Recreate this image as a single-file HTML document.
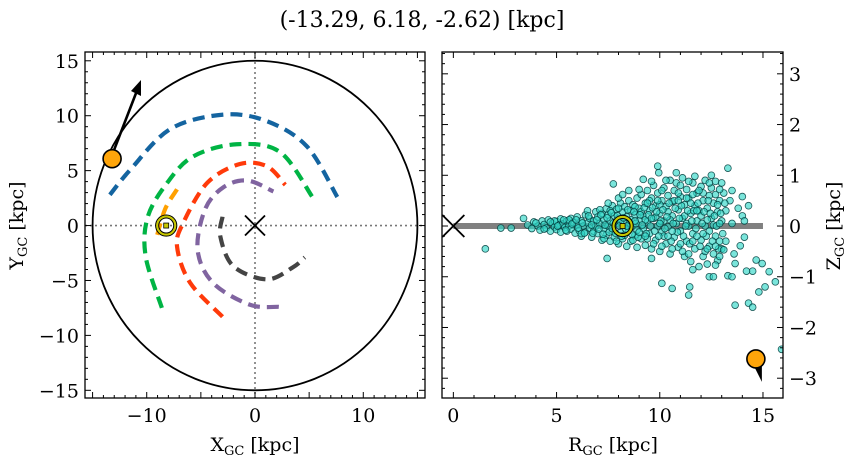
<!DOCTYPE html>
<html><head><meta charset="utf-8"><style>
html,body{margin:0;padding:0;background:#fff;width:854px;height:464px;overflow:hidden}
svg{display:block;font-family:"DejaVu Serif","Liberation Serif",serif}
</style></head><body>
<svg id="fig" width="854" height="464" viewBox="0 0 854 464" xmlns="http://www.w3.org/2000/svg">
<text x="422" y="27" font-size="22" text-anchor="middle">(-13.29, 6.18, -2.62) [kpc]</text>
<g id="L"></g>
<g id="R"></g>
</svg>
<script>
// ---- data ----
const armBlueX=[-13.4,-11.5,-7.8,-2.9,1.1,4.8,7.6];
const armBlueY=[2.8,5.1,8.8,10.1,9.5,7.2,2.6];
const armGreenX=[-8.6,-10.1,-9.9,-8.1,-5.7,-1.7,2.3,5.3];
const armGreenY=[-7.5,-2.8,0.8,3.9,6.3,7.4,6.7,2.6];
const armRedX=[-3.0,-6.0,-7.2,-6.6,-4.4,-1.4,1.1,2.8];
const armRedY=[-8.3,-5.2,-1.9,0.3,3.9,5.6,5.4,3.7];
const armPurpleX=[2.2,-0.5,-3.9,-5.3,-4.6,-2.9,-0.7,1.7];
const armPurpleY=[-7.4,-7.2,-5.2,-2.2,1.5,3.5,4.1,3.1];
const armGrayX=[-3.0,-3.2,-2.0,1.1,3.5,4.6];
const armGrayY=[0.8,-1.0,-3.7,-4.9,-3.8,-2.9];
const armOrangeX=[-7.2,-8.3,-9.1];
const armOrangeY=[3.3,1.5,-1.1];
const target=[-13.29,6.18,-2.62];
const sunXY=[-8.2,0];
const xyTicks=[-15,-10,-5,0,5,10,15];
const xTickLabels=["−10","0","10"];
const yTickLabelsL=["−15","−10","−5","0","5","10","15"];
const rTicks=[0,5,10,15];
const zTicks=[-3,-2,-1,0,1,2,3];
const zTickLabels=["−3","−2","−1","0","1","2","3"];
const stars=[[3.6,0.02],[3.8,-0.05],[3.9,0.08],[4.1,0.0],[4.2,-0.08],[4.3,0.1],[4.4,0.03],[4.5,-0.04],[4.6,0.12],[4.7,-0.1],[4.8,0.05],[4.9,-0.02],[5.0,0.09],[5.0,-0.07],[5.1,0.02],[5.2,0.14],[5.2,-0.12],[5.3,0.04],[5.4,-0.03],[5.5,0.1],[5.5,-0.1],[5.6,0.0],[5.7,0.15],[5.7,-0.06],[5.8,0.07],[5.9,-0.14],[6.0,0.02],[6.0,0.18],[6.1,-0.09],[6.2,0.1],[6.2,-0.2],[6.3,0.0],[6.4,0.22],[6.4,-0.12],[6.5,0.06],[6.6,-0.04],[6.6,0.15],[6.7,-0.22],[6.8,0.1],[6.8,-0.1],[6.9,0.28],[6.9,0.0],[7.0,-0.15],[7.0,0.18],[7.1,0.05],[7.2,-0.28],[7.2,0.25],[7.3,-0.05],[7.3,0.12],[7.4,0.34],[7.4,-0.18],[7.5,0.0],[7.5,0.22],[7.6,-0.3],[7.6,0.1],[7.7,0.4],[7.7,-0.1],[7.8,0.2],[7.8,-0.22],[7.9,0.05],[7.9,0.33],[8.0,-0.35],[8.0,0.15],[8.1,-0.12],[8.1,0.45],[8.2,0.28],[8.2,-0.25],[8.3,0.05],[8.3,0.38],[8.4,-0.4],[8.4,0.18],[8.5,-0.08],[8.5,0.5],[8.6,0.3],[8.6,-0.3],[8.7,0.0],[8.7,0.42],[8.8,-0.18],[8.8,0.22],[8.9,0.55],[8.9,-0.42],[9.0,0.1],[9.0,0.35],[9.1,-0.25],[9.1,0.62],[9.2,0.2],[9.2,-0.05],[9.3,0.45],[9.3,-0.38],[9.4,0.7],[9.4,0.08],[9.5,-0.15],[9.5,0.3],[9.6,0.55],[9.6,-0.45],[9.7,0.15],[9.7,0.8],[9.8,-0.28],[9.8,0.4],[9.9,0.0],[9.9,0.65],[10.0,-0.5],[10.0,0.25],[10.1,0.5],[10.1,-0.12],[10.2,0.75],[10.2,0.1],[10.3,-0.35],[10.3,0.38],[10.4,0.6],[10.4,-0.02],[10.5,0.9],[10.5,-0.55],[10.6,0.2],[10.6,0.48],[10.7,-0.22],[10.7,0.7],[10.8,0.05],[10.8,0.85],[10.9,-0.42],[10.9,0.32],[11.0,0.58],[11.0,-0.1],[11.1,0.15],[11.1,0.95],[11.2,-0.6],[11.2,0.42],[11.3,0.72],[11.3,-0.3],[11.4,0.0],[11.4,0.55],[11.5,0.25],[11.5,-0.7],[11.6,0.85],[11.6,-0.15],[11.7,0.4],[11.7,-0.45],[11.8,0.65],[11.8,0.1],[11.9,-0.8],[11.9,0.3],[12.0,0.78],[12.0,-0.28],[12.1,0.5],[12.1,-0.6],[12.2,0.0],[12.2,0.9],[12.3,0.35],[12.3,-0.75],[12.4,0.6],[12.4,-0.4],[12.5,0.15],[12.5,0.75],[12.6,-0.55],[12.6,0.45],[12.7,-0.2],[12.7,0.62],[12.8,0.28],[12.8,-0.68],[12.9,0.5],[13.0,0.1],[13.0,-0.45],[13.1,0.65],[13.2,0.3],[13.2,-0.3],[13.4,0.5],[13.5,0.05],[13.6,-0.55],[13.8,0.35],[14.0,0.2],
[7.1,0.32],[7.3,-0.25],[7.6,0.3],[7.9,-0.3],[8.1,0.08],[8.3,-0.18],[8.6,0.12],[8.8,0.38],[8.9,-0.08],[9.1,0.28],[9.3,0.12],[9.5,0.5],[9.7,-0.35],[9.8,0.18],[10.0,0.42],[10.2,-0.2],[10.4,0.28],[10.5,0.12],[10.7,0.5],[10.9,0.65],[11.0,-0.35],[11.2,0.2],[11.3,0.05],[11.5,0.45],[11.6,0.62],[11.8,-0.2],[12.0,0.2],[12.1,0.65],[12.3,0.12],[12.4,-0.1],[12.6,0.02],[12.8,0.42],[12.9,-0.3],[9.4,-0.25],[10.1,-0.4],[10.6,-0.45],[11.1,-0.5],[11.4,-0.55],[12.2,-0.5],[9.0,0.72],[9.6,0.88],[10.3,0.9],[11.7,0.98],[12.5,1.0],[9.2,0.92],[10.8,1.05],[11.4,0.88],[12.7,0.88],[12.9,0.72],[13.0,0.85],[8.5,0.7],[8.7,-0.28],[8.0,0.55],[8.2,0.62],[7.5,0.45],[6.5,0.3],[6.2,-0.15],[5.6,0.12],[4.9,0.1]];
const coreStars=[[4.0,0.06],[4.4,-0.06],[4.7,0.08],[5.05,0.0],[5.35,0.12],[5.45,-0.08],[5.75,0.04],[5.95,0.12],[6.05,-0.04],[6.25,0.06],[6.35,-0.14],[6.55,0.2],[6.7,0.02],[6.75,-0.14],[6.95,0.12],[7.05,-0.06],[7.15,0.22],[7.25,-0.16],[7.35,0.02],[7.45,0.16],[7.55,-0.12],[7.65,0.26],[7.75,0.06],[7.85,-0.14],[7.95,0.2],[8.05,0.0],[8.15,-0.2],[8.25,0.16],[8.35,-0.06],[8.45,0.32],[8.55,0.06],[8.65,-0.16],[8.75,0.28],[8.85,0.05],[8.95,-0.22],[9.05,0.22],[9.15,0.02],[9.25,0.36],[9.35,-0.15],[9.45,0.22],[9.55,0.0],[9.65,0.36],[9.75,-0.1],[9.85,0.28],[9.95,-0.2],[10.05,0.1],[10.15,0.32],[10.25,-0.05],[10.35,0.18],[10.45,0.45],[10.55,-0.3],[10.65,0.05],[10.75,0.35],[10.85,-0.12],[10.95,0.15],[11.05,0.4],[11.15,-0.2],[11.25,0.0],[11.35,0.3],[11.45,-0.35],[11.55,0.1],[11.65,0.3],[11.75,-0.05],[11.85,0.45],[11.95,-0.4],[12.05,0.05],[12.15,0.28],[12.25,-0.2],[12.35,0.5],[12.45,0.25],[12.55,-0.3],[12.65,0.2],[12.75,0.0],[12.85,-0.45],[12.95,0.25],[13.05,-0.15],[13.15,0.45],[9.0,-0.12],[9.4,0.45],[9.9,0.5],[10.4,-0.2],[10.9,0.5],[11.3,0.55],[11.8,0.3],[12.3,-0.45],[12.7,-0.4],[8.4,0.0],[8.0,0.35],[7.7,-0.05],[9.6,0.15],[10.1,0.7],[11.0,0.8],[11.9,0.7],[12.4,0.85],[10.6,-0.1],[11.6,-0.3],[12.1,-0.15],[12.9,0.05],[10.0,0.05],[9.3,-0.2],[8.8,0.1]];
const outliers=[[1.55,-0.45],[2.3,-0.04],[2.8,-0.04],[3.4,0.15],[7.45,-0.64],[7.75,0.83],[9.9,1.18],[9.95,1.05],[13.3,1.14],[9.6,-0.64],[10.1,-1.13],[10.6,-1.23],[11.4,-1.36],[11.45,-1.2],[11.6,-0.86],[12.4,-1.0],[12.6,-1.0],[13.3,-0.98],[13.5,-1.0],[13.65,-1.56],[14.3,-1.52],[14.5,-1.6],[14.8,-1.3],[15.1,-1.2],[15.6,-1.1],[15.9,-2.43],[15.3,-0.9],[14.96,-0.74],[14.5,-0.89],[14.67,-0.67],[14.2,-0.89],[14.1,-0.22],[13.9,-0.39],[13.65,-0.74],[13.1,-0.47],[12.9,-0.6],[12.7,-0.77],[14.3,0.4],[14.1,0.1],[14.0,0.58],[13.5,0.7]];

// ---- helpers ----
const NS="http://www.w3.org/2000/svg";
function mk(parent,tag,attrs,txt){const e=document.createElementNS(NS,tag);for(const k in attrs)e.setAttribute(k,attrs[k]);if(txt!==undefined)e.textContent=txt;parent.appendChild(e);return e;}
const L={x0:85,x1:425,y0:52,y1:398,xmin:-15.7,xmax:15.7,ymin:-15.7,ymax:15.8};
const lx=v=>L.x0+(v-L.xmin)/(L.xmax-L.xmin)*(L.x1-L.x0);
const ly=v=>L.y1-(v-L.ymin)/(L.ymax-L.ymin)*(L.y1-L.y0);
const R={x0:442,x1:783,y0:52,y1:398,xmin:-0.55,xmax:15.97,ymin:-3.39,ymax:3.43};
const rx=v=>R.x0+(v-R.xmin)/(R.xmax-R.xmin)*(R.x1-R.x0);
const ry=v=>R.y1-(v-R.ymin)/(R.ymax-R.ymin)*(R.y1-R.y0);

const gL=document.getElementById('L');
const gR=document.getElementById('R');

function smooth(xs,ys,fx,fy){
  const p=xs.map((x,i)=>[fx(x),fy(ys[i])]);
  let d=`M${p[0][0]},${p[0][1]}`;
  for(let i=0;i<p.length-1;i++){
    const p0=p[Math.max(i-1,0)],p1=p[i],p2=p[i+1],p3=p[Math.min(i+2,p.length-1)];
    const c1=[p1[0]+(p2[0]-p0[0])/6,p1[1]+(p2[1]-p0[1])/6];
    const c2=[p2[0]-(p3[0]-p1[0])/6,p2[1]-(p3[1]-p1[1])/6];
    d+=` C${c1[0]},${c1[1]} ${c2[0]},${c2[1]} ${p2[0]},${p2[1]}`;
  }
  return d;
}

let e;
e=mk(gL,'line',{x1:lx(0),x2:lx(0),y1:L.y0,y2:L.y1,stroke:'#777','stroke-width':1.6,'stroke-dasharray':'2,3'});


e=mk(gL,'line',{x1:L.x0,x2:L.x1,y1:ly(0),y2:ly(0),stroke:'#777','stroke-width':1.6,'stroke-dasharray':'2,3'});


e=mk(gL,'ellipse',{cx:lx(0),cy:ly(0),rx:lx(15)-lx(0),ry:ly(0)-ly(15),fill:'none',stroke:'#000','stroke-width':1.8});


const arms=[['arm-blue',armBlueX,armBlueY,'#1464a0'],['arm-green',armGreenX,armGreenY,'#00b444'],['arm-red',armRedX,armRedY,'#ff3a0a'],['arm-purple',armPurpleX,armPurpleY,'#8064a0'],['arm-gray',armGrayX,armGrayY,'#444444'],['arm-orange',armOrangeX,armOrangeY,'#ffa000']];
arms.forEach(a=>{
  const p=mk(gL,'path',{d:smooth(a[1],a[2],lx,ly),fill:'none',stroke:a[3],'stroke-width':4.2,'stroke-dasharray':'12,7'});
  
  
});
e=mk(gL,'path',{d:`M${lx(0)-10},${ly(0)-10}L${lx(0)+10},${ly(0)+10}M${lx(0)-10},${ly(0)+10}L${lx(0)+10},${ly(0)-10}`,stroke:'#000','stroke-width':1.8});


function sun(g,cx,cy,name){
  const s=mk(g,'g',{});
  
  
  mk(s,'circle',{cx,cy,r:10.5,fill:'none',stroke:'#000','stroke-width':1.2});
  mk(s,'circle',{cx,cy,r:9,fill:'none',stroke:'#c8c800','stroke-width':2.2});
  mk(s,'circle',{cx,cy,r:7.5,fill:'none',stroke:'#000','stroke-width':1});
  mk(s,'rect',{x:cx-2.5,y:cy-2.5,width:5,height:5,fill:'#c8c800',stroke:'#000','stroke-width':0.8});
}
sun(gL,lx(sunXY[0]),ly(sunXY[1]),'sun-marker-xy');
const tx=lx(target[0]),ty=ly(target[1]);
e=mk(gL,'line',{x1:tx,y1:ty,x2:138,y2:88,stroke:'#000','stroke-width':2.6});


e=mk(gL,'polygon',{points:'141,80 131,91 141,96',fill:'#000'});


e=mk(gL,'circle',{cx:tx+1,cy:ty+1,r:9,fill:'#ffa50a',stroke:'#000','stroke-width':1.6});



function frame(g,A){
  const f=mk(g,'rect',{x:A.x0,y:A.y0,width:A.x1-A.x0,height:A.y1-A.y0,fill:'none',stroke:'#000','stroke-width':1.3});
  
  
}
frame(gL,L);
for(let v=-15;v<=15;v++){
  const major=v%5===0, len=major?6:3;
  const X=lx(v),Y=ly(v);
  mk(gL,'line',{x1:X,x2:X,y1:L.y1,y2:L.y1-len,stroke:'#000','stroke-width':1});
  mk(gL,'line',{x1:X,x2:X,y1:L.y0,y2:L.y0+len,stroke:'#000','stroke-width':1});
  mk(gL,'line',{x1:L.x0,x2:L.x0+len,y1:Y,y2:Y,stroke:'#000','stroke-width':1});
  mk(gL,'line',{x1:L.x1,x2:L.x1-len,y1:Y,y2:Y,stroke:'#000','stroke-width':1});
}
[-10,0,10].forEach((v,i)=>{
  const t=mk(gL,'text',{x:lx(v),y:422,'font-size':19,'text-anchor':'middle'},xTickLabels[i]);
  
  
});
xyTicks.forEach((v,i)=>{
  const t=mk(gL,'text',{x:79,y:ly(v)+7,'font-size':19,'text-anchor':'end'},yTickLabelsL[i]);
  
  
});
e=mk(gL,'text',{x:255,y:451,'font-size':19,'text-anchor':'middle'});
e.innerHTML='X<tspan font-size="13" dy="4">GC</tspan><tspan dy="-4"> [kpc]</tspan>';


e=mk(gL,'text',{x:0,y:0,'font-size':19,'text-anchor':'middle',transform:`translate(23,${ly(0)}) rotate(-90)`});
e.innerHTML='Y<tspan font-size="13" dy="4">GC</tspan><tspan dy="-4"> [kpc]</tspan>';



// ---- right panel ----
e=mk(gR,'line',{x1:rx(0),x2:rx(15),y1:ry(0),y2:ry(0),stroke:'#808080','stroke-width':6});


e=mk(gR,'path',{d:`M${rx(0)-11},${ry(0)-11}L${rx(0)+11},${ry(0)+11}M${rx(0)-11},${ry(0)+11}L${rx(0)+11},${ry(0)-11}`,stroke:'#000','stroke-width':1.8});


const defs=mk(document.getElementById('fig'),'defs',{});
const cp=mk(defs,'clipPath',{id:'rclip'});
mk(cp,'rect',{x:R.x0,y:R.y0,width:R.x1-R.x0,height:R.y1-R.y0});
const sg=mk(gR,'g',{'clip-path':'url(#rclip)'});


stars.concat(coreStars,outliers).forEach(s=>{
  const c=mk(sg,'circle',{cx:rx(s[0]),cy:ry(s[1]),r:3.4,fill:'rgba(50,215,200,0.65)',stroke:'rgba(0,60,60,0.85)','stroke-width':0.8});
  
  
});
sun(gR,rx(8.2),ry(0),'sun-marker-rz');
const px=rx(Math.hypot(target[0],target[1])),py=ry(target[2]);
e=mk(gR,'polygon',{points:`${px-3},${py+5} ${px+6},${py+4} ${px+6},${py+23}`,fill:'#000'});


e=mk(gR,'circle',{cx:px,cy:py,r:9,fill:'#ffa50a',stroke:'#000','stroke-width':1.6});


frame(gR,R);
for(let v=0;v<=15;v++){
  const len=v%5===0?6:3,X=rx(v);
  mk(gR,'line',{x1:X,x2:X,y1:R.y1,y2:R.y1-len,stroke:'#000','stroke-width':1});
  mk(gR,'line',{x1:X,x2:X,y1:R.y0,y2:R.y0+len,stroke:'#000','stroke-width':1});
}
for(let k=-17;k<=17;k++){
  const v=k*0.2,len=k%5===0?6:3,Y=ry(v);
  if(Y<R.y0||Y>R.y1)continue;
  mk(gR,'line',{x1:R.x0,x2:R.x0+len,y1:Y,y2:Y,stroke:'#000','stroke-width':1});
  mk(gR,'line',{x1:R.x1,x2:R.x1-len,y1:Y,y2:Y,stroke:'#000','stroke-width':1});
}
rTicks.forEach(v=>{
  const t=mk(gR,'text',{x:rx(v),y:422,'font-size':19,'text-anchor':'middle'},String(v));
  
  
});
zTicks.forEach((v,i)=>{
  const t=mk(gR,'text',{x:789,y:ry(v)+7,'font-size':19,'text-anchor':'start'},zTickLabels[i]);
  
  
});
e=mk(gR,'text',{x:613,y:451,'font-size':19,'text-anchor':'middle'});
e.innerHTML='R<tspan font-size="13" dy="4">GC</tspan><tspan dy="-4"> [kpc]</tspan>';


e=mk(gR,'text',{x:0,y:0,'font-size':19,'text-anchor':'middle',transform:`translate(840,${ry(0)}) rotate(-90)`});
e.innerHTML='Z<tspan font-size="13" dy="4">GC</tspan><tspan dy="-4"> [kpc]</tspan>';


</script>
</body></html>
